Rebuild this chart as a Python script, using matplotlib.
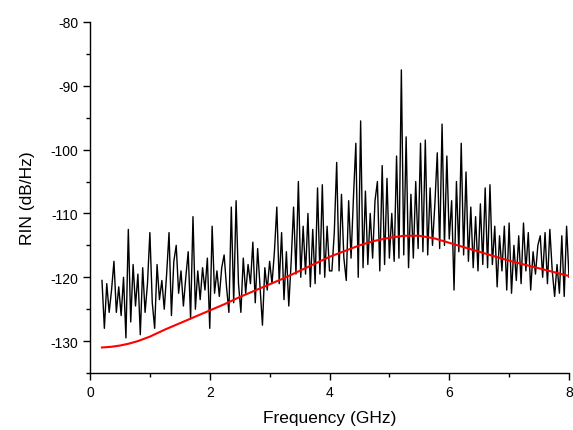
"""Relative intensity noise spectrum with fitted curve."""

import matplotlib

matplotlib.use("Agg")
import matplotlib.pyplot as plt
import numpy as np
from matplotlib.ticker import MultipleLocator

# measured RIN, 0.2 .. 8.0 GHz in 0.04 GHz steps
rin_measured = [
    -120.5, -128.0, -121.0, -125.5, -122.0, -117.5, -125.5, -121.5, -126.0, -120.0,
    -129.5, -112.5, -127.0, -118.0, -124.5, -119.5, -129.0, -118.5, -125.5, -121.0,
    -113.0,
    -124.0, -128.0, -118.0, -123.5, -120.5, -125.0, -119.5, -113.0, -126.0, -117.5,
    -115.0, -122.5, -119.0, -124.5, -120.0, -116.0, -126.5, -110.5, -125.0, -119.0,
    -123.5, -118.5, -122.0, -117.0, -128.0,
    -112.0, -122.5, -119.0, -123.0, -118.5, -116.5, -121.5, -125.5, -109.0, -124.0,
    -108.0, -121.0, -125.5, -117.0, -122.5, -118.0, -121.0, -114.5, -124.0, -115.5,
    -121.5, -127.5, -118.5, -122.0, -117.5,
    -121.0, -116.0, -109.0, -121.0, -113.0, -123.5, -116.0, -124.5, -117.5, -109.0,
    -119.5, -105.0, -120.0, -112.0, -119.5, -110.0, -121.5, -112.5, -121.0, -106.0,
    -119.5, -105.5, -120.0, -112.0, -119.0,
    -119.0, -113.0, -102.0, -119.0, -107.0, -117.0, -120.5, -108.0, -117.0, -107.5,
    -99.0, -120.0, -95.5, -118.5, -106.5, -118.0, -110.0, -117.0, -108.0, -105.0,
    -119.0, -102.5, -118.0, -104.5, -117.0,
    -110.0, -117.5, -101.0, -117.0, -87.5, -116.5, -98.0, -118.5, -107.0, -117.0,
    -105.0, -115.5, -99.0, -116.0, -98.5, -116.5, -106.0, -115.0, -108.5, -100.5,
    -115.5, -96.0, -115.0, -101.0, -114.0,
    -108.0, -122.0, -105.0, -116.0, -99.0, -116.5, -103.5, -117.5, -109.0, -118.5,
    -110.5, -119.0, -108.5, -118.0, -106.0, -118.5, -105.5, -118.0, -112.0, -121.5,
    -113.5, -119.0, -112.0, -122.0, -111.5,
    -122.5, -115.0, -120.5, -113.5, -121.0, -111.5, -119.0, -113.0, -122.0, -116.0,
    -119.5, -115.0, -113.5, -120.0, -113.0, -121.0, -112.5, -119.0, -123.0, -118.0,
    -122.5, -113.5, -123.0, -112.0, -120.0,
]
freq_measured = np.linspace(0.2, 8.0, len(rin_measured))

# fitted curve
freq_fit = [
    0.20, 0.35, 0.50, 0.65, 0.80, 1.00, 1.25, 1.50, 1.75, 2.00, 2.25, 2.50,
    2.75, 3.00, 3.25, 3.50, 3.75, 4.00, 4.25, 4.50, 4.75, 5.00, 5.25, 5.50,
    5.75, 6.00, 6.25, 6.50, 6.75, 7.00, 7.25, 7.50, 7.75, 8.00,
]
rin_fit = [
    -131.0, -130.9, -130.7, -130.4, -130.0, -129.3, -128.2, -127.2, -126.2, -125.2,
    -124.2, -123.1, -122.1, -121.1, -120.1, -119.0, -117.9, -116.8, -115.9, -115.0,
    -114.3, -113.8, -113.5, -113.5, -113.9, -114.6, -115.3, -116.0, -116.7, -117.4,
    -118.0, -118.6, -119.2, -119.8,
]

plt.rcParams["font.family"] = ["Liberation Sans", "DejaVu Sans"]
plt.rcParams["axes.unicode_minus"] = False

fig = plt.figure(figsize=(5.73, 4.31), dpi=100)
ax = fig.add_axes([90 / 573, 1 - 374 / 431, 479 / 573, 351 / 431])

ax.plot(freq_measured, rin_measured, color="black", linewidth=1.0)
ax.plot(freq_fit, rin_fit, color="red", linewidth=1.5)

ax.set_xlim(0, 8)
ax.set_ylim(-135, -80)
ax.xaxis.set_major_locator(MultipleLocator(2))
ax.xaxis.set_minor_locator(MultipleLocator(1))
ax.yaxis.set_major_locator(MultipleLocator(10))
ax.yaxis.set_minor_locator(MultipleLocator(5))

for side in ("top", "right"):
    ax.spines[side].set_visible(False)
for side in ("left", "bottom"):
    ax.spines[side].set_linewidth(1.0)

ax.tick_params(which="major", direction="out", length=5, width=1, labelsize=10)
ax.tick_params(which="minor", direction="out", length=3, width=1)

ax.set_xlabel("Frequency (GHz)", fontsize=12.5, labelpad=8)
ax.set_ylabel("RIN (dB/Hz)", fontsize=12.5, labelpad=11)

fig.savefig("out.png", dpi=100)
